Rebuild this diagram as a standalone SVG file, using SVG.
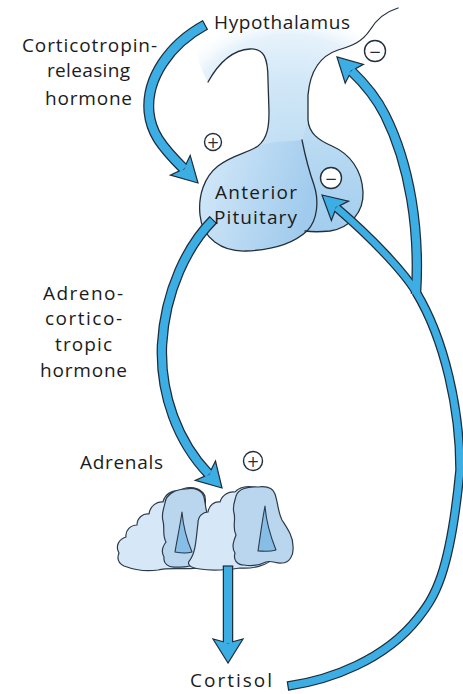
<svg xmlns="http://www.w3.org/2000/svg" width="463" height="694" viewBox="0 0 463 694">
  <defs>
    <radialGradient id="hypoGrad" gradientUnits="userSpaceOnUse" cx="290" cy="150" r="165">
      <stop offset="0" stop-color="#c0ddf3"/>
      <stop offset="0.4" stop-color="#d0e7f7"/>
      <stop offset="0.7" stop-color="#e6f2fb"/>
      <stop offset="0.86" stop-color="#ffffff" stop-opacity="0"/>
    </radialGradient>
    <linearGradient id="antGrad" x1="0" y1="0" x2="1" y2="0.3">
      <stop offset="0" stop-color="#d6eaf9"/>
      <stop offset="1" stop-color="#a1cbed"/>
    </linearGradient>
    <linearGradient id="postGrad" x1="0" y1="0" x2="0" y2="1">
      <stop offset="0" stop-color="#c0def4"/>
      <stop offset="1" stop-color="#a2cdee"/>
    </linearGradient>
  </defs>
  <style>
    .outline { fill: none; stroke: #23303c; stroke-width: 1.3; stroke-linecap: round; }
    .lbl { font-family: "Open Sans", "Liberation Sans", sans-serif; font-size: 19px; fill: #1b1b1b; }
    .sign circle { fill: #ffffff; stroke: #23303c; stroke-width: 1.4; }
    .sign text { font-family: "DejaVu Sans", "Liberation Sans", sans-serif; font-size: 15px; fill: #23303c; text-anchor: middle; }
    .sh-o { fill: none; stroke: #1f2d3a; stroke-linecap: butt; stroke-linejoin: round; }
    .sh-i { fill: none; stroke: #3caee4; stroke-linecap: butt; stroke-linejoin: round; }
    .head { fill: #3caee4; stroke: #1f2d3a; stroke-width: 1.2; stroke-linejoin: miter; }
    .cap { stroke: #1f2d3a; stroke-width: 1.2; }
    .gl-body { fill: #d6e8f7; stroke: #2a3a48; stroke-width: 1.2; stroke-linejoin: round; }
    .gl-cortex { fill: #bad6ee; stroke: #2a3a48; stroke-width: 1.2; stroke-linejoin: round; }
    .gl-medulla { fill: #86bee7; stroke: #2a3a48; stroke-width: 1.1; stroke-linejoin: round; }
  </style>

  <rect width="463" height="694" fill="#ffffff"/>

  <!-- Hypothalamus and pituitary stalk -->
  <g id="hypothalamus">
    <path fill="url(#hypoGrad)" d="M208,82 C218,64 232,50 250,49 C264,48 268,58 268,80 L269,112 C269,125 268,138 258,146 C248,153 232,155 218,166 C204,177 198,196 200,215 C202,238 222,252 246,251 C272,250 293,244 307,231 C312,232 320,232 330,231 C350,228 364,212 363,192 C362,170 350,154 332,146 C318,140 309,133 308,120 L308,95 C310,72 320,56 338,50 C352,46 362,42 370,30 C376,20 385,12 398,8 L404,0 L195,0 C190,30 195,60 208,82 Z"/>
    <text class="lbl" x="214" y="29" textLength="136" lengthAdjust="spacing">Hypothalamus</text>
  </g>

  <!-- Anterior pituitary lobe -->
  <g id="anterior-pituitary">
    <path fill="url(#antGrad)" d="M258,146 C248,153 232,155 218,166 C204,177 198,196 200,215 C202,238 222,252 246,251 C272,250 293,244 307,231 C318,220 319,200 314,185 C308,168 305,155 302,140 C290,142 275,140 258,146 Z"/>
  </g>

  <!-- Posterior pituitary lobe -->
  <g id="posterior-pituitary">
    <path fill="url(#postGrad)" d="M302,140 C305,155 308,168 314,185 C319,200 318,220 307,231 C312,232 320,232 330,231 C350,228 364,212 363,192 C362,170 350,154 332,146 C318,140 309,133 308,120 Z"/>
  </g>

  <!-- Outlines of the hypothalamus / pituitary -->
  <g id="pituitary-outline">
    <path class="outline" d="M208,82 C218,64 232,50 250,49 C264,48 268,58 268,80 L269,112 C269,125 268,138 258,146 C248,153 232,155 218,166 C204,177 198,196 200,215 C202,238 222,252 246,251 C272,250 293,244 307,231"/>
    <path class="outline" d="M398,8 C385,12 376,20 370,30 C362,42 352,46 338,50 C320,56 310,72 308,95 L308,120 C309,133 318,140 332,146 C350,154 362,170 363,192 C364,212 350,228 330,231 C320,232 312,232 305,231"/>
    <path class="outline" d="M302,140 C305,155 308,168 314,185 C319,200 318,220 307,231"/>
  </g>

  <!-- Adrenal glands -->
  <g id="adrenals">
    <path class="gl-body" d="M119,553 C115,546 119,539 126,537 C125,530 131,525 137,525 C137,518 143,513 149,514 C150,506 157,501 163,502 C165,494 172,490 179,491 C186,486 196,487 201,491 C206,494 206,500 205,506 L212,548 C214,560 210,567 200,568 C185,570 170,567 158,570 C145,572 132,569 124,566 C118,563 117,558 119,553 Z"/>
    <path class="gl-cortex" d="M165,503 C166,494 176,489 186,489 C194,487 202,490 204,497 C206,506 206,515 210,523 C214,530 222,538 223,548 C224,557 220,564 212,565 C205,566 200,562 195,564 C188,568 180,567 176,567 C168,568 163,563 164,557 C161,552 163,546 166,542 C162,535 165,528 163,521 C161,514 164,508 165,503 Z"/>
    <path class="gl-medulla" d="M182,512 C183,524 186,538 192,552 C186,554 180,553 175,552 C177,540 180,526 182,512 Z"/>
    <path class="gl-body" d="M198,523 C198,516 203,512 208,512 C209,505 215,501 220,502 C222,495 229,491 235,492 C239,487 247,486 253,487 C262,488 270,494 272,502 L276,556 C268,566 252,569 240,568 C226,570 212,571 200,569 C190,568 186,564 190,560 C196,552 196,538 198,523 Z"/>
    <path class="gl-cortex" d="M236,496 C238,489 248,486 258,487 C266,486 273,488 275,494 C278,503 278,512 282,520 C287,528 293,536 293,546 C294,556 289,563 282,563 C276,564 272,560 266,562 C258,566 250,566 244,565 C237,565 233,560 235,553 C231,547 234,540 236,535 C232,528 236,520 234,513 C232,506 235,501 236,496 Z"/>
    <path class="gl-medulla" d="M265,506 C266,520 270,535 276,550 C269,552 263,551 258,551 C260,538 262,522 265,506 Z"/>
    <text class="lbl" x="80" y="469" textLength="83" lengthAdjust="spacing">Adrenals</text>
  </g>

  <!-- Hormone pathways -->
  <g id="connectors">
    <!-- dark outlines of the shafts -->
    <path class="sh-o" stroke-width="11" d="M205,25 C170,44 146,78 149,112 C151,132 160,145 183.8,168.8"/>
    <path class="sh-o" stroke-width="10.5" d="M213,220 C188,245 165,290 162,345 C160,395 178,442 208.9,474.3"/>
    <path class="sh-o" stroke-width="10.5" d="M228,566 L228,643"/>
    <path class="sh-o" stroke-width="9.5" d="M288,686 C330,680 385,660 418,618 C434,598 450,575 460,470 C460,410 445,340 416,292"/>
    <path class="sh-o" stroke-width="9" d="M416,292 C404,272 372,238 336.3,207.5"/>
    <path class="sh-o" stroke-width="10.5" d="M416,294 C420,230 410,165 385,115 C376,97 366,85 351.4,71"/>

    <!-- arrowheads -->
    <polygon class="head" points="198,183 170.4,175.2 183.8,168.8 190.2,155.4"/>
    <polygon class="head" points="222,488 195.3,480.4 208.9,474.3 215.5,461"/>
    <polygon class="head" points="228,663 213,639 228,643 243,639"/>
    <polygon class="head" points="322,195 331.4,220.5 336.3,207.5 348.6,201.1"/>
    <polygon class="head" points="337,57 345.2,83.2 351.4,71 363.4,64.4"/>

    <!-- blue shaft fills -->
    <path class="sh-i" stroke-width="8.5" d="M205,25 C170,44 146,78 149,112 C151,132 160,145 183.8,168.8"/>
    <path class="sh-i" stroke-width="8" d="M213,220 C188,245 165,290 162,345 C160,395 178,442 208.9,474.3"/>
    <path class="sh-i" stroke-width="8" d="M228,566 L228,643"/>
    <path class="sh-i" stroke-width="7" d="M288,686 C330,680 385,660 418,618 C434,598 450,575 460,470 C460,410 445,340 416,292"/>
    <path class="sh-i" stroke-width="6.5" d="M416,292 C404,272 372,238 336.3,207.5"/>
    <path class="sh-i" stroke-width="8" d="M416,294 C420,230 410,165 385,115 C376,97 366,85 351.4,71"/>

    <!-- square tail ends -->
    <line class="cap" x1="202.4" y1="20.2" x2="207.6" y2="29.8"/>
    <line class="cap" x1="209.3" y1="216.3" x2="216.7" y2="223.7"/>
    <line class="cap" x1="222.8" y1="566" x2="233.2" y2="566"/>
    <line class="cap" x1="287.3" y1="681.3" x2="288.7" y2="690.7"/>

    <!-- pathway labels -->
    <text class="lbl" x="22" y="52" textLength="135" lengthAdjust="spacing">Corticotropin-</text>
    <text class="lbl" x="47" y="77" textLength="83" lengthAdjust="spacing">releasing</text>
    <text class="lbl" x="45" y="105" textLength="87" lengthAdjust="spacing">hormone</text>
    <text class="lbl" x="43" y="300" textLength="80" lengthAdjust="spacing">Adreno-</text>
    <text class="lbl" x="45" y="325" textLength="77" lengthAdjust="spacing">cortico-</text>
    <text class="lbl" x="55" y="351" textLength="57" lengthAdjust="spacing">tropic</text>
    <text class="lbl" x="40" y="377" textLength="87" lengthAdjust="spacing">hormone</text>

    <!-- stimulation / inhibition signs -->
    <g class="sign"><circle cx="213" cy="142" r="8.5"/><text x="213" y="147.5">+</text></g>
    <g class="sign"><circle cx="375" cy="51" r="10.5"/><text x="375" y="56.5">−</text></g>
    <g class="sign"><circle cx="331" cy="178" r="10.5"/><text x="331" y="183.5">−</text></g>
    <g class="sign"><circle cx="253" cy="461" r="9.5"/><text x="253" y="466.5">+</text></g>
  </g>

  <!-- Pituitary label -->
  <g id="pituitary-label">
    <text class="lbl" x="215" y="199" textLength="82" lengthAdjust="spacing">Anterior</text>
    <text class="lbl" x="214" y="224" textLength="83" lengthAdjust="spacing">Pituitary</text>
  </g>

  <!-- Cortisol -->
  <g id="cortisol">
    <text class="lbl" x="190" y="687" textLength="82" lengthAdjust="spacing">Cortisol</text>
  </g>
</svg>
